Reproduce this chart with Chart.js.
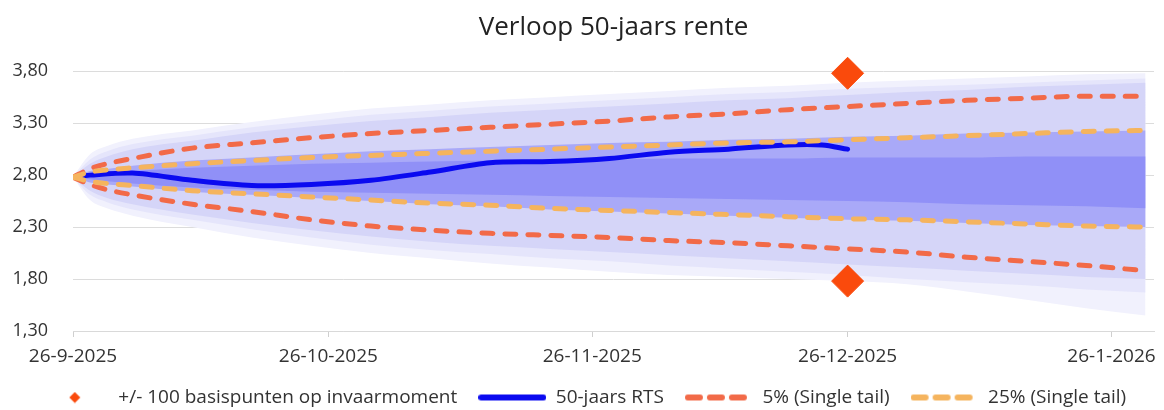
<!DOCTYPE html>
<html>
<head>
<meta charset="utf-8">
<script src="https://cdn.jsdelivr.net/npm/chart.js@4.4.1/dist/chart.umd.min.js"></script>
<style>
html,body{margin:0;padding:0;background:#ffffff;}
#wrap{width:1164px;height:410px;}
</style>
</head>
<body>
<div id="wrap"><canvas id="c" width="1164" height="410"></canvas></div>
<script>
// ---------------- DATA ----------------
const titleText = 'Verloop 50-jaars rente';
const startDate = '2025-09-26';
const axisEndDate = '2026-01-31';

const tickDates  = ['2025-09-26','2025-10-26','2025-11-26','2025-12-26','2026-01-26'];
const tickLabels = ['26-9-2025','26-10-2025','26-11-2025','26-12-2025','26-1-2026'];
const yTicks = [1.30, 1.80, 2.30, 2.80, 3.30, 3.80];

// dates for fan / percentile series
const fanDates = ['2025-09-26','2025-09-28','2025-09-30','2025-10-03','2025-10-10','2025-10-17','2025-10-24',
  '2025-10-31','2025-11-07','2025-11-14','2025-11-21','2025-11-28','2025-12-05','2025-12-12','2025-12-19',
  '2025-12-26','2026-01-02','2026-01-09','2026-01-16','2026-01-23','2026-01-30'];

const pct5Upper  = [2.78,2.86,2.91,2.96,3.06,3.11,3.16,3.20,3.23,3.26,3.29,3.32,3.36,3.39,3.43,3.46,3.49,3.52,3.54,3.56,3.56];
const pct5Lower  = [2.78,2.71,2.66,2.61,2.52,2.45,2.37,2.31,2.27,2.24,2.22,2.20,2.17,2.15,2.12,2.09,2.06,2.01,1.97,1.93,1.88];
const pct25Upper = [2.78,2.83,2.85,2.87,2.91,2.94,2.97,2.99,3.01,3.03,3.05,3.07,3.09,3.11,3.12,3.14,3.16,3.18,3.20,3.22,3.23];
const pct25Lower = [2.78,2.74,2.72,2.70,2.65,2.62,2.59,2.56,2.53,2.51,2.48,2.46,2.44,2.42,2.40,2.38,2.37,2.35,2.33,2.31,2.30];

// fan bands (outer -> inner)
const band1Upper = [2.78,3.00,3.08,3.15,3.23,3.31,3.38,3.44,3.48,3.52,3.55,3.58,3.61,3.64,3.66,3.69,3.71,3.73,3.75,3.77,3.78];
const band1Lower = [2.78,2.56,2.48,2.41,2.30,2.20,2.12,2.05,2.00,1.95,1.91,1.87,1.84,1.82,1.80,1.78,1.75,1.68,1.60,1.52,1.45];
const band2Upper = [2.78,2.95,3.03,3.10,3.18,3.26,3.32,3.38,3.42,3.46,3.49,3.52,3.55,3.58,3.60,3.63,3.65,3.67,3.69,3.71,3.73];
const band2Lower = [2.78,2.61,2.54,2.47,2.37,2.28,2.20,2.13,2.08,2.04,2.00,1.97,1.93,1.90,1.87,1.84,1.80,1.77,1.74,1.70,1.67];
const band3Upper = [2.78,2.91,2.98,3.05,3.13,3.21,3.27,3.32,3.36,3.40,3.43,3.46,3.49,3.52,3.54,3.57,3.60,3.62,3.65,3.67,3.69];
const band3Lower = [2.78,2.65,2.58,2.52,2.42,2.34,2.27,2.21,2.16,2.12,2.09,2.06,2.03,2.00,1.97,1.94,1.91,1.88,1.85,1.82,1.80];
const band4Upper = [2.78,2.84,2.86,2.89,2.94,2.97,3.00,3.03,3.05,3.07,3.09,3.11,3.12,3.14,3.15,3.17,3.18,3.20,3.21,3.22,3.23];
const band4Lower = [2.78,2.73,2.71,2.69,2.64,2.61,2.58,2.55,2.52,2.50,2.47,2.45,2.43,2.41,2.39,2.37,2.36,2.34,2.32,2.31,2.30];
const band5Upper = [2.78,2.80,2.82,2.84,2.87,2.89,2.91,2.92,2.93,2.94,2.95,2.95,2.96,2.96,2.96,2.97,2.97,2.97,2.98,2.98,2.98];
const band5Lower = [2.78,2.76,2.74,2.72,2.68,2.66,2.64,2.63,2.62,2.61,2.60,2.59,2.58,2.57,2.56,2.55,2.54,2.52,2.51,2.50,2.48];

// 50-jaars RTS
const rtsDates  = ['2025-09-26','2025-09-28','2025-10-03','2025-10-10','2025-10-17','2025-10-24','2025-10-31',
  '2025-11-07','2025-11-14','2025-11-21','2025-11-28','2025-12-05','2025-12-12','2025-12-19','2025-12-23','2025-12-26'];
const rtsValues = [2.78,2.80,2.82,2.75,2.70,2.71,2.75,2.83,2.92,2.93,2.96,3.02,3.05,3.09,3.09,3.05];

// +/- 100 basispunten op invaarmoment
const shockDates  = ['2025-12-26','2025-12-26'];
const shockValues = [3.78, 1.78];

const legendTexts = ['+/- 100 basispunten op invaarmoment','50-jaars RTS','5% (Single tail)','25% (Single tail)'];

// ---------------- STYLE ----------------
const FONT = "'Open Sans', 'Noto Sans', sans-serif";
const TXT = '#333333';
const C_BLUE = '#0a0af0';
const C_P5 = '#f26a48';
const C_P25 = '#f5b45e';
const C_SHOCK = '#fa4a0c';
const BAND_COLORS = ['#f1f1fd','#e5e5fb','#d5d5f8','#a9a9f8','#9090f7'];

function dayOf(s){
  const p = s.split('-').map(Number);
  const b = startDate.split('-').map(Number);
  return Math.round((Date.UTC(p[0],p[1]-1,p[2]) - Date.UTC(b[0],b[1]-1,b[2]))/86400000);
}
const pts = (dates, vals) => dates.map((d,i)=>({x: dayOf(d), y: vals[i]}));
const tickDays = tickDates.map(dayOf);

function swatch(kind, color){
  const c = document.createElement('canvas');
  const g = c.getContext('2d');
  if (kind === 'diamond'){
    c.width = 12; c.height = 12;
    g.fillStyle = color;
    g.beginPath(); g.moveTo(6,0.5); g.lineTo(11.5,6); g.lineTo(6,11.5); g.lineTo(0.5,6); g.closePath(); g.fill();
  } else {
    c.width = 68; c.height = 8;
    g.strokeStyle = color; g.lineWidth = 6; g.lineCap = 'round';
    if (kind === 'dash') g.setLineDash([12,10]);
    g.beginPath(); g.moveTo(3,4); g.lineTo(65,4); g.stroke();
  }
  return c;
}
const legendSwatches = [swatch('diamond',C_SHOCK), swatch('line',C_BLUE), swatch('dash',C_P5), swatch('dash',C_P25)];

const lineBase = {pointRadius:0, pointHoverRadius:0, fill:false};
const dashed = (label, vals, color) => Object.assign({}, lineBase, {
  label, data: pts(fanDates, vals), borderColor: color, borderWidth: 5,
  borderDash: [11,12], borderCapStyle: 'round', cubicInterpolationMode: 'monotone'
});
const bandUp = (vals) => Object.assign({}, lineBase, {label:'', data: pts(fanDates, vals), borderWidth:0, borderColor:'rgba(0,0,0,0)', cubicInterpolationMode:'monotone'});
const bandLo = (vals, color) => Object.assign({}, lineBase, {label:'', data: pts(fanDates, vals), borderWidth:0, borderColor:'rgba(0,0,0,0)', fill:'-1', backgroundColor: color, cubicInterpolationMode:'monotone'});

const datasets = [
  {label: legendTexts[0], data: pts(shockDates, shockValues), showLine:false, pointStyle:'rectRot',
   pointRadius:16, pointHoverRadius:16, pointBackgroundColor:C_SHOCK, pointBorderColor:C_SHOCK, pointBorderWidth:1, clip:false},
  dashed(legendTexts[3], pct25Upper, C_P25),
  dashed(legendTexts[3], pct25Lower, C_P25),
  dashed(legendTexts[2], pct5Upper, C_P5),
  dashed(legendTexts[2], pct5Lower, C_P5),
  Object.assign({}, lineBase, {label: legendTexts[1], data: pts(rtsDates, rtsValues), borderColor: C_BLUE, borderWidth: 5,
    borderCapStyle:'round', borderJoinStyle:'round', tension: 0.3}),
  bandUp(band5Upper), bandLo(band5Lower, BAND_COLORS[4]),
  bandUp(band4Upper), bandLo(band4Lower, BAND_COLORS[3]),
  bandUp(band3Upper), bandLo(band3Lower, BAND_COLORS[2]),
  bandUp(band2Upper), bandLo(band2Lower, BAND_COLORS[1]),
  bandUp(band1Upper), bandLo(band1Lower, BAND_COLORS[0])
];

new Chart(document.getElementById('c'), {
  type: 'line',
  data: {datasets},
  options: {
    responsive: false,
    animation: false,
    events: [],
    layout: {autoPadding: false, padding: {left: 12, right: 9, top: 10, bottom: -7}},
    plugins: {
      title: {display: true, text: titleText, fullSize: false, color: '#222222',
        font: {family: FONT, size: 26, weight: 'normal'}, padding: {top: 2, bottom: 28}},
      legend: {position: 'bottom',
        labels: {usePointStyle: true, pointStyleWidth: 68, padding: 21, color: TXT,
          font: {family: FONT, size: 19},
          generateLabels: () => legendTexts.map((t,i)=>({text: t, pointStyle: legendSwatches[i], fontColor: TXT,
            fillStyle: 'rgba(0,0,0,0)', strokeStyle: 'rgba(0,0,0,0)', lineWidth: 0, hidden: false, datasetIndex: i}))
        },
        onClick: null
      },
      tooltip: {enabled: false}
    },
    scales: {
      x: {type: 'linear', min: 0, max: dayOf(axisEndDate),
        afterBuildTicks: ax => { ax.ticks = tickDays.map(v => ({value: v})); },
        afterFit: ax => { ax.height = 36; },
        ticks: {callback: v => tickLabels[tickDays.indexOf(v)], color: TXT, font: {family: FONT, size: 19},
          padding: 8, maxRotation: 0, autoSkip: false},
        grid: {drawOnChartArea: false, tickLength: 6, color: '#cfcfcf'},
        border: {color: '#d9d9d9'}
      },
      y: {min: 1.3, max: 3.8,
        afterBuildTicks: ax => { ax.ticks = yTicks.map(v => ({value: v})); },
        afterFit: ax => { ax.width = 61; },
        ticks: {callback: v => Number(v).toFixed(2).replace('.', ','), color: TXT, font: {family: FONT, size: 18}, padding: 25},
        grid: {color: '#dcdcdc', drawTicks: false},
        border: {display: false}
      }
    }
  }
});
</script>
</body>
</html>
